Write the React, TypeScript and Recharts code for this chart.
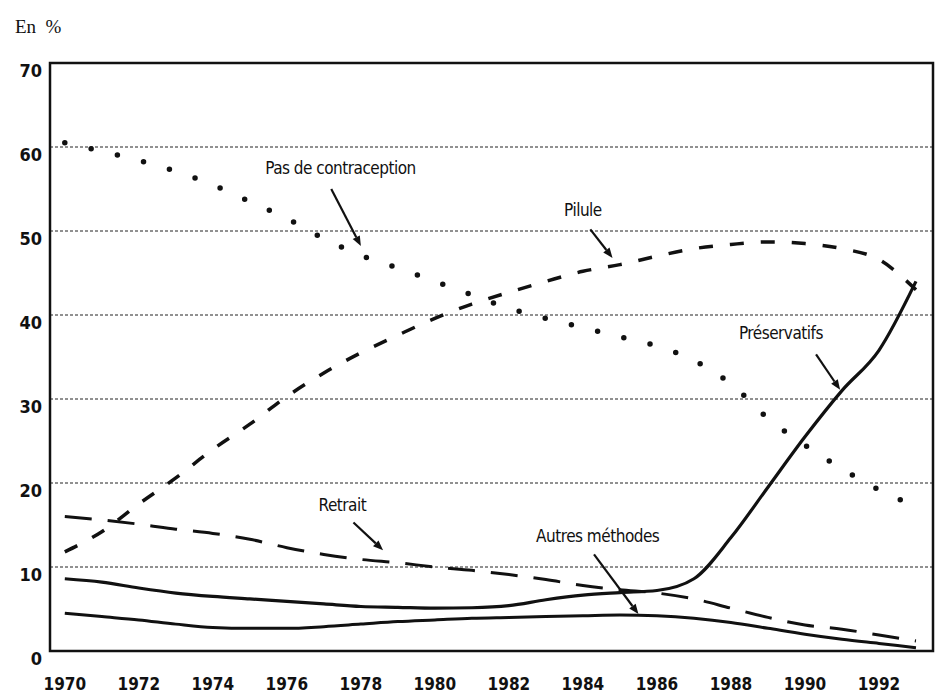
import {
  LineChart,
  Line,
  XAxis,
  YAxis,
  CartesianGrid,
  ReferenceArea,
  ReferenceDot,
  ReferenceLine,
} from "recharts";

const years = [
  1970, 1971, 1972, 1973, 1974, 1975, 1976, 1977, 1978, 1979, 1980, 1981,
  1982, 1983, 1984, 1985, 1986, 1987, 1988, 1989, 1990, 1991, 1992, 1993,
];
const pasDeContraception = [
  60.5, 59.5, 58.4, 57.1, 55.5, 53.5, 51.5, 49.1, 47.1, 45.6, 44.0, 42.4,
  40.8, 39.6, 38.5, 37.4, 36.3, 34.6, 31.8, 27.7, 24.5, 21.7, 19.2, 17.2,
];
const pilule = [
  11.8, 14.2, 17.5, 20.6, 24.0, 27.0, 30.3, 33.1, 35.5, 37.6, 39.6, 41.3,
  42.7, 44.0, 45.2, 46.0, 47.0, 47.9, 48.4, 48.7, 48.5, 47.9, 46.6, 43.0,
];
const retrait = [
  16.0, 15.6, 15.1, 14.5, 14.0, 13.3, 12.3, 11.5, 10.9, 10.5, 10.0, 9.6,
  9.1, 8.5, 7.8, 7.3, 6.9, 6.2, 5.1, 4.0, 3.1, 2.6, 1.9, 1.2,
];
const preservatifs = [
  8.6, 8.2, 7.5, 6.9, 6.5, 6.2, 5.9, 5.6, 5.3, 5.2, 5.1, 5.15,
  5.4, 6.1, 6.65, 6.95, 7.2, 8.6, 13.5, 19.5, 25.5, 31.0, 35.8, 44.0,
];
const autresMethodes = [
  4.5, 4.1, 3.7, 3.2, 2.8, 2.7, 2.7, 2.9, 3.2, 3.5, 3.7, 3.9,
  4.0, 4.1, 4.2, 4.3, 4.2, 3.9, 3.4, 2.7, 2.0, 1.4, 0.9, 0.4,
];

const xTicks = [1970, 1972, 1974, 1976, 1978, 1980, 1982, 1984, 1986, 1988, 1990, 1992];
const yTicks = [0, 10, 20, 30, 40, 50, 60, 70];
const X_MIN = 1969.6;
const X_MAX = 1993.46;

// label text, position, then arrow from -> to (data coords)
const notes = [
  { text: "Pas de contraception", x: 1977.45, y: 57.5, from: [1977.2, 55.0], to: [1978.0, 48.2] },
  { text: "Pilule", x: 1984.0, y: 52.5, from: [1984.2, 50.2], to: [1984.8, 46.8] },
  { text: "Préservatifs", x: 1989.35, y: 37.9, from: [1990.3, 35.3], to: [1990.95, 31.1] },
  { text: "Retrait", x: 1977.5, y: 17.4, from: [1977.8, 15.3], to: [1978.6, 12.0] },
  { text: "Autres méthodes", x: 1984.4, y: 13.7, from: [1984.3, 11.5], to: [1985.5, 4.4] },
];

const data = years.map((year, i) => ({
  year,
  pasDeContraception: pasDeContraception[i],
  pilule: pilule[i],
  retrait: retrait[i],
  preservatifs: preservatifs[i],
  autresMethodes: autresMethodes[i],
}));

const tickFont = "'DejaVu Sans Condensed', 'Liberation Sans Narrow', sans-serif";
const noteFont = "'Liberation Sans Narrow', 'DejaVu Sans Condensed', sans-serif";

const Arrow = (p: any) => {
  const { x1, y1, x2, y2 } = p;
  const a = Math.atan2(y2 - y1, x2 - x1);
  const L = 10;
  const W = 4;
  const bx = x2 - L * Math.cos(a);
  const by = y2 - L * Math.sin(a);
  const pts = [
    [x2, y2],
    [bx + W * Math.sin(a), by - W * Math.cos(a)],
    [bx - W * Math.sin(a), by + W * Math.cos(a)],
  ]
    .map((q) => q.join(","))
    .join(" ");
  return (
    <g>
      <line x1={x1} y1={y1} x2={bx} y2={by} stroke="#111" strokeWidth={2.2} />
      <polygon points={pts} fill="#111" />
    </g>
  );
};

export default function App() {
  return (
    <div style={{ position: "absolute", left: 0, top: 0, width: 940, height: 696, background: "#fff" }}>
      <div
        style={{
          position: "absolute",
          left: 15,
          top: 16,
          fontFamily: "'Liberation Serif', 'DejaVu Serif', serif",
          fontSize: 19,
          color: "#111",
        }}
      >
        En&nbsp; %
      </div>
      <LineChart
        width={940}
        height={696}
        data={data}
        margin={{ top: 63, right: 7, bottom: 0, left: 0 }}
      >
        <CartesianGrid
          horizontal
          vertical={false}
          stroke="#222"
          strokeDasharray="3 2"
          strokeWidth={1}
        />
        <XAxis
          dataKey="year"
          type="number"
          domain={[X_MIN, X_MAX]}
          ticks={xTicks}
          allowDataOverflow
          height={45}
          axisLine={false}
          tickLine={false}
          tick={(p: any) => (
            <text
              x={p.x}
              y={p.y + 31}
              textAnchor="middle"
              fontFamily={tickFont}
              fontWeight="bold"
              fontSize={17}
              fill="#111"
            >
              {p.payload.value}
            </text>
          )}
        />
        <YAxis
          type="number"
          domain={[0, 70]}
          ticks={yTicks}
          width={50}
          axisLine={false}
          tickLine={false}
          tick={(p: any) => (
            <text
              x={p.x}
              y={p.y + 14}
              textAnchor="end"
              fontFamily={tickFont}
              fontWeight="bold"
              fontSize={18}
              fill="#111"
            >
              {p.payload.value}
            </text>
          )}
        />
        <ReferenceArea
          x1={X_MIN}
          x2={X_MAX}
          y1={0}
          y2={70}
          fill="none"
          stroke="#111"
          strokeWidth={2.5}
          ifOverflow="visible"
        />
        <Line
          type="monotone"
          dataKey="pasDeContraception"
          stroke="#111"
          strokeWidth={5.5}
          strokeDasharray="0 27"
          strokeLinecap="round"
          dot={false}
          isAnimationActive={false}
        />
        <Line
          type="monotone"
          dataKey="pilule"
          stroke="#111"
          strokeWidth={3.5}
          strokeDasharray="14 17"
          dot={false}
          isAnimationActive={false}
        />
        <Line
          type="monotone"
          dataKey="retrait"
          stroke="#111"
          strokeWidth={3}
          strokeDasharray="27 16"
          dot={false}
          isAnimationActive={false}
        />
        <Line
          type="monotone"
          dataKey="preservatifs"
          stroke="#111"
          strokeWidth={3.2}
          dot={false}
          isAnimationActive={false}
        />
        <Line
          type="monotone"
          dataKey="autresMethodes"
          stroke="#111"
          strokeWidth={3}
          dot={false}
          isAnimationActive={false}
        />
        {notes.map((n) => (
          <ReferenceLine
            key={n.text + "-arrow"}
            segment={[
              { x: n.from[0], y: n.from[1] },
              { x: n.to[0], y: n.to[1] },
            ]}
            ifOverflow="visible"
            shape={Arrow}
          />
        ))}
        {notes.map((n) => (
          <ReferenceDot
            key={n.text}
            x={n.x}
            y={n.y}
            r={0}
            ifOverflow="visible"
            shape={(p: any) => (
              <text
                x={p.cx}
                y={p.cy + 6}
                textAnchor="middle"
                fontFamily={noteFont}
                fontSize={17}
                letterSpacing={-0.5}
                fill="#111"
              >
                {n.text}
              </text>
            )}
          />
        ))}
      </LineChart>
    </div>
  );
}
